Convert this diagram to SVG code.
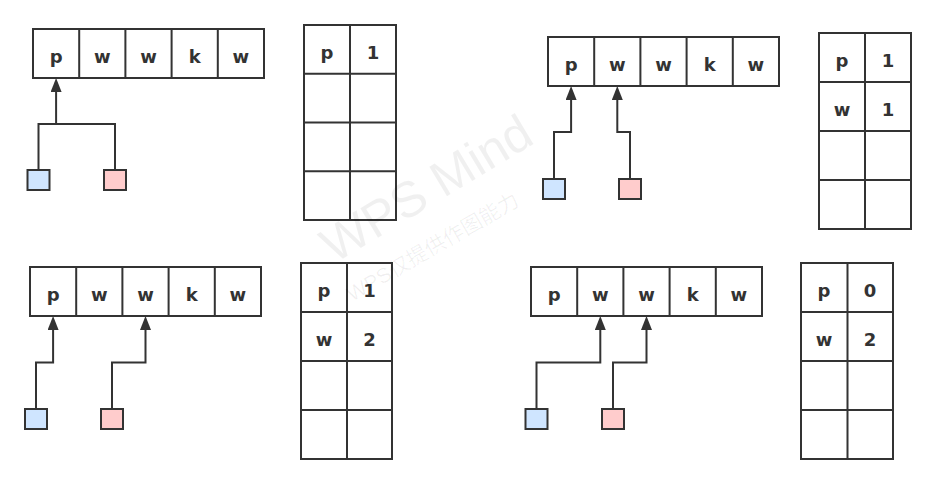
<svg xmlns="http://www.w3.org/2000/svg" width="936" height="484" viewBox="0 0 936 484">
<style>
.bg{fill:#ffffff}
.cell{fill:#ffffff;stroke:#333333;stroke-width:2}
.ln{fill:none;stroke:#333333;stroke-width:2}
.t{font-family:"DejaVu Sans","Liberation Sans",sans-serif;font-weight:bold;font-size:18px;fill:#333333;text-anchor:middle}
.blue{fill:#cfe5ff;stroke:#333333;stroke-width:2}
.pink{fill:#ffcccc;stroke:#333333;stroke-width:2}
.wm{font-family:"Liberation Sans","Noto Sans CJK SC",sans-serif;fill:#000000;fill-opacity:0.06}
.arr{fill:none;stroke:#333333;stroke-width:2;marker-end:url(#ah)}
</style>
<defs>
<marker id="ah" markerUnits="userSpaceOnUse" viewBox="0 0 14 11" refX="6" refY="5.5" markerWidth="14" markerHeight="11" orient="auto">
<path d="M0,0 L14,5.5 L0,11 z" fill="#333333"/>
</marker>
</defs>
<rect class="bg" x="0" y="0" width="936" height="484"/>

<!-- Panel top-left -->
<g id="array1">
<rect class="cell" x="33" y="29" width="231" height="49"/>
<path class="ln" d="M79.2,29V78M125.4,29V78M171.6,29V78M217.8,29V78"/>
<text class="t" x="56.1" y="63">p</text>
<text class="t" x="102.3" y="63">w</text>
<text class="t" x="148.5" y="63">w</text>
<text class="t" x="194.7" y="63">k</text>
<text class="t" x="240.9" y="63">w</text>
</g>
<g id="blue1"><rect class="blue" x="27.5" y="170" width="22" height="20"/></g>
<g id="pink1"><rect class="pink" x="104" y="170" width="22" height="20"/></g>
<g id="table1">
<rect class="cell" x="304" y="25" width="92" height="195"/>
<path class="ln" d="M350,25V220M304,73.75H396M304,122.5H396M304,171.25H396"/>
<text class="t" x="327" y="58.5">p</text>
<text class="t" x="373" y="58.5">1</text>
</g>

<!-- Panel top-right -->
<g id="array2">
<rect class="cell" x="548" y="37" width="231" height="49"/>
<path class="ln" d="M594.2,37V86M640.4,37V86M686.6,37V86M732.8,37V86"/>
<text class="t" x="571.1" y="71">p</text>
<text class="t" x="617.3" y="71">w</text>
<text class="t" x="663.5" y="71">w</text>
<text class="t" x="709.7" y="71">k</text>
<text class="t" x="755.9" y="71">w</text>
</g>
<g id="blue2"><rect class="blue" x="543" y="179" width="22" height="20"/></g>
<g id="pink2"><rect class="pink" x="619" y="179" width="22" height="20"/></g>
<g id="table2">
<rect class="cell" x="819" y="33" width="92" height="196"/>
<path class="ln" d="M865,33V229M819,82H911M819,131H911M819,180H911"/>
<text class="t" x="842" y="66.5">p</text>
<text class="t" x="888" y="66.5">1</text>
<text class="t" x="842" y="115.5">w</text>
<text class="t" x="888" y="115.5">1</text>
</g>

<!-- Panel bottom-left -->
<g id="array3">
<rect class="cell" x="30" y="267" width="231" height="49"/>
<path class="ln" d="M76.2,267V316M122.4,267V316M168.6,267V316M214.8,267V316"/>
<text class="t" x="53.1" y="301">p</text>
<text class="t" x="99.3" y="301">w</text>
<text class="t" x="145.5" y="301">w</text>
<text class="t" x="191.7" y="301">k</text>
<text class="t" x="237.9" y="301">w</text>
</g>
<g id="blue3"><rect class="blue" x="25" y="409" width="22" height="20"/></g>
<g id="pink3"><rect class="pink" x="101" y="409" width="22" height="20"/></g>
<g id="table3">
<rect class="cell" x="301" y="263" width="91" height="196"/>
<path class="ln" d="M347,263V459M301,312H392M301,361H392M301,410H392"/>
<text class="t" x="324" y="296.5">p</text>
<text class="t" x="369.5" y="296.5">1</text>
<text class="t" x="324" y="345.5">w</text>
<text class="t" x="369.5" y="345.5">2</text>
</g>

<!-- Panel bottom-right -->
<g id="array4">
<rect class="cell" x="531" y="267" width="231" height="49"/>
<path class="ln" d="M577.2,267V316M623.4,267V316M669.6,267V316M715.8,267V316"/>
<text class="t" x="554.1" y="301">p</text>
<text class="t" x="600.3" y="301">w</text>
<text class="t" x="646.5" y="301">w</text>
<text class="t" x="692.7" y="301">k</text>
<text class="t" x="738.9" y="301">w</text>
</g>
<g id="blue4"><rect class="blue" x="525.5" y="409" width="22" height="20"/></g>
<g id="pink4"><rect class="pink" x="602" y="409" width="22" height="20"/></g>
<g id="table4">
<rect class="cell" x="801" y="263" width="92" height="196"/>
<path class="ln" d="M847.5,263V459M801,312H893M801,361H893M801,410H893"/>
<text class="t" x="824" y="296.5">p</text>
<text class="t" x="870" y="296.5">0</text>
<text class="t" x="824" y="345.5">w</text>
<text class="t" x="870" y="345.5">2</text>
</g>

<g id="connectors">
<path class="ln" d="M38.5,170V124H115V170"/>
<path class="arr" d="M56.1,124V86"/>
<path class="arr" d="M554,179V132H571.1V94"/>
<path class="arr" d="M630,179V132H617.3V94"/>
<path class="arr" d="M36,409V362.5H53.1V324"/>
<path class="arr" d="M112,409V362.5H145.5V324"/>
<path class="arr" d="M536.5,409V362.5H600.3V324"/>
<path class="arr" d="M613,409V362.5H646.5V324"/>
</g>

<g id="watermark">
<text class="wm" x="334" y="264" font-size="50" transform="rotate(-31 334 264)">WPS Mind</text>
<text class="wm" x="352" y="302" font-size="21" transform="rotate(-30 352 302)">WPS仅提供作图能力</text>
</g>
</svg>
